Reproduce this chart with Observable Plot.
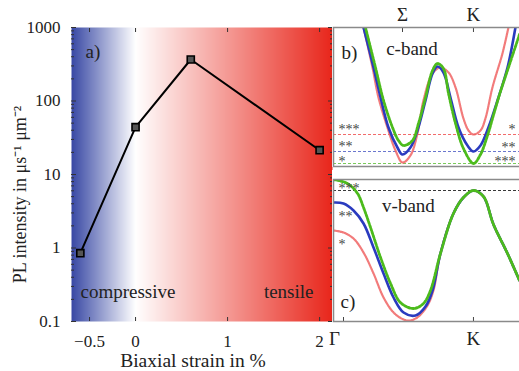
<!DOCTYPE html>
<html><head><meta charset="utf-8">
<script src="https://cdn.jsdelivr.net/npm/d3@7"></script>
<script src="https://cdn.jsdelivr.net/npm/@observablehq/plot@0.6"></script>
<style>
html,body{margin:0;padding:0;background:#fff;overflow:hidden;}
#wrap{position:relative;width:519px;height:371px;overflow:hidden;}
#wrap svg{position:absolute;display:block;max-width:none;}
</style></head><body><div id="wrap"></div>
<script>
// ---------- panel a data ----------
const strain = [-0.6, 0, 0.6, 2];
const plIntensity = [0.85, 44, 367, 21.4];
const strainTicks = [-0.5, 0, 1, 2];
const strainTickLabels = ["−0.5", "0", "1", "2"];
const intensityTicks = [0.1, 1, 10, 100, 1000];
const intensityTickLabels = ["0.1", "1", "10", "100", "1000"];
const yLabelA = "PL intensity in μs⁻¹ μm⁻²";
const xLabelA = "Biaxial strain in %";

// ---------- panel b (conduction band) data: [k, E] ----------
const cBandRed = [[0.154,1.39],[0.223,0.99],[0.269,0.69],[0.338,0.39],[0.400,0.16],[0.454,0.04],[0.515,0.11],[0.569,0.33],[0.615,0.66],[0.685,0.93],[0.746,0.99],[0.808,0.94],[0.862,0.79],[0.923,0.48],[0.962,0.36],[1.000,0.32],[1.054,0.36],[1.092,0.48],[1.146,0.79],[1.223,1.13],[1.269,1.39]];
const cBandBlue = [[0.154,1.39],[0.231,0.99],[0.285,0.69],[0.346,0.39],[0.415,0.19],[0.454,0.12],[0.515,0.19],[0.569,0.36],[0.631,0.66],[0.685,0.93],[0.723,1.00],[0.769,0.94],[0.823,0.69],[0.885,0.39],[0.954,0.21],[1.000,0.15],[1.054,0.21],[1.115,0.39],[1.185,0.66],[1.262,0.99],[1.323,1.39]];
const cBandGreen = [[0.169,1.39],[0.246,0.99],[0.308,0.66],[0.377,0.39],[0.423,0.26],[0.462,0.21],[0.531,0.26],[0.577,0.43],[0.631,0.69],[0.685,0.96],[0.723,1.03],[0.769,0.98],[0.808,0.73],[0.862,0.43],[0.923,0.18],[1.000,0.03],[1.054,0.12],[1.108,0.31],[1.162,0.55],[1.208,0.75],[1.277,1.02],[1.354,1.32]];
const cBandLevels = [0.32, 0.15, 0.03];
const cBandLevelColors = ["#f05a5a", "#5a68c8", "#6cc44a"];
const cStarsLeft = ["***", "**", "*"];
const cStarsLeftE = [0.39, 0.22, 0.07];
const cStarsRight = ["*", "**", "***"];
const cStarsRightE = [0.39, 0.21, 0.07];

// ---------- panel c (valence band) data: [k, E] ----------
const vBandRed = [[-0.077,0.91],[0,0.89],[0.077,0.83],[0.154,0.69],[0.231,0.48],[0.308,0.24],[0.385,0.09],[0.462,0.02],[0.515,0.01],[0.577,0.05],[0.646,0.16],[0.692,0.31]];
const vBandBlue = [[-0.077,1.19],[0,1.18],[0.077,1.11],[0.154,0.98],[0.231,0.74],[0.308,0.48],[0.385,0.24],[0.462,0.09],[0.554,0.06],[0.631,0.15],[0.685,0.31]];
const vBandGreen = [[-0.077,1.42],[0.031,1.38],[0.108,1.28],[0.154,1.14],[0.208,0.94],[0.285,0.64],[0.362,0.38],[0.438,0.19],[0.538,0.13],[0.615,0.18],[0.669,0.31]];
const vBandShared = [[0.746,0.68],[0.846,1.08],[0.923,1.24],[1.0,1.31],[1.077,1.25],[1.154,0.97],[1.262,0.68],[1.354,0.41]];
const vBandLevel = [1.31];
const vStars = ["***", "**", "*"];
const vStarsE = [1.35, 1.07, 0.79];

// k-path tick labels
const topTicks = [0.454, 1];
const topTickLabels = ["Σ", "K"];
const bottomTicks = [0, 1];
const bottomTickLabels = ["Γ", "K"];

const serif = "'Liberation Serif', 'Times New Roman', serif";
const wrap = document.getElementById("wrap");

// ================= panel a =================
const xDomA = [-0.696, 2.14];
const yDomA = [0.1, 1000];
const minorY = d3.scaleLog().domain(yDomA).ticks().filter(v => !intensityTicks.some(t => Math.abs(t - v) < 1e-9));
const ptsA = strain.map((s, i) => ({s, v: plIntensity[i]}));

let bg;
if (Plot.raster) {
  bg = Plot.raster({x1: xDomA[0], x2: xDomA[1], y1: yDomA[0], y2: yDomA[1], fill: (x, y) => x, pixelSize: 1});
} else {
  const st = d3.range(xDomA[0], xDomA[1], 0.01);
  bg = Plot.rectY(st, {x1: d => d, x2: d => d + 0.012, y1: yDomA[0], y2: yDomA[1], fill: d => d});
}

const plotA = Plot.plot({
  width: 333, height: 371,
  marginLeft: 71, marginRight: 1, marginTop: 27, marginBottom: 50,
  style: {fontFamily: serif, background: "transparent", color: "#222", overflow: "visible"},
  x: {domain: xDomA},
  y: {type: "log", domain: yDomA},
  color: {type: "linear", domain: [xDomA[0], 0, xDomA[1]], range: ["#3848a4", "#ffffff", "#e8261b"], interpolate: "rgb"},
  marks: [
    bg,
    Plot.axisY(intensityTicks, {anchor: "left", tickSize: 5, dx: 5, tickPadding: 11, fontSize: 17, label: null, fill: "#222", stroke: "#333",
      tickFormat: d => intensityTickLabels[intensityTicks.indexOf(d)]}),
    Plot.axisY(minorY, {anchor: "left", tickSize: 3, dx: 3, fill: "none", label: null, stroke: "#333"}),
    Plot.axisY(intensityTicks, {anchor: "right", tickSize: 5, dx: -5, fill: "none", label: null, stroke: "#333"}),
    Plot.axisY(minorY, {anchor: "right", tickSize: 3, dx: -3, fill: "none", label: null, stroke: "#333"}),
    Plot.axisX(strainTicks, {anchor: "bottom", tickSize: 4, dy: -4, tickPadding: 13, fontSize: 17, label: null, fill: "#222", stroke: "#333",
      tickFormat: d => strainTickLabels[strainTicks.indexOf(d)]}),
    Plot.axisX(strainTicks, {anchor: "top", tickSize: 4, dy: 4, fill: "none", label: null, stroke: "#333"}),
    Plot.line(ptsA, {x: "s", y: "v", stroke: "#000", strokeWidth: 2}),
    Plot.dot(ptsA, {x: "s", y: "v", symbol: "square", r: 4, fill: "#555", stroke: "#000", strokeWidth: 1.6}),
    Plot.text([yLabelA], {text: d => d, frameAnchor: "left", textAnchor: "middle", lineAnchor: "middle", rotate: -90, dx: -51, dy: 20, fontSize: 18, fill: "#222"}),
    Plot.text([xLabelA], {text: d => d, frameAnchor: "bottom", textAnchor: "middle", lineAnchor: "middle", dx: -9, dy: 39, fontSize: 19.5, fill: "#222"}),
    Plot.text(["a)"], {text: d => d, frameAnchor: "top-left", dx: 14, dy: 24, textAnchor: "start", lineAnchor: "middle", fontSize: 19, fill: "#222"}),
    Plot.text(["compressive"], {text: d => d, frameAnchor: "bottom-left", dx: 9, dy: -30, textAnchor: "start", lineAnchor: "middle", fontSize: 19, fill: "#222"}),
    Plot.text(["tensile"], {text: d => d, frameAnchor: "bottom-right", dx: -19, dy: -30, textAnchor: "end", lineAnchor: "middle", fontSize: 19, fill: "#222"})
  ]
});
plotA.style.left = "0px"; plotA.style.top = "0px";
wrap.appendChild(plotA);

// ================= shared styles for b/c =================
const kDom = [-0.077, 1.385];
const lineOpts = (color, w, dash, op = 1) => ({x: d => d[0], y: d => d[1], curve: "catmull-rom", stroke: color, strokeWidth: w, strokeDasharray: dash, strokeOpacity: op, clip: true});
const redStyle = ["#f06464", 2.2, "1.3,0.9", 0.85];
const blueStyle = ["#2a3bbf", 2.6, null, 1];
const greenStyle = ["#4cbb1c", 2.8, "2.2,1.5", 1];

// ================= panel b =================
const plotB = Plot.plot({
  width: 192, height: 167,
  marginLeft: 1, marginRight: 1, marginTop: 27, marginBottom: 1,
  style: {fontFamily: serif, background: "white", color: "#222", overflow: "visible"},
  x: {domain: kDom, axis: null},
  y: {domain: [0, 1.39], axis: null},
  marks: [
    ...cBandLevels.map((e, i) => Plot.ruleY([e], {stroke: cBandLevelColors[i], strokeWidth: 0.9, strokeDasharray: "3,2"})),
    Plot.line(cBandRed, lineOpts(...redStyle)),
    Plot.line(cBandBlue, lineOpts(...blueStyle)),
    Plot.line(cBandGreen, lineOpts(...greenStyle)),
    Plot.text(cStarsLeft, {text: d => d, x: kDom[0], y: (d, i) => cStarsLeftE[i], dx: 5, dy: 2.5, textAnchor: "start", fontSize: 14, fill: "#444"}),
    Plot.text(cStarsRight, {text: d => d, x: kDom[1], y: (d, i) => cStarsRightE[i], dx: -8, dy: 2.5, textAnchor: "end", fontSize: 14, fill: "#444"}),
    Plot.text(["b)"], {text: d => d, x: kDom[0], y: 1.14, dx: 8, textAnchor: "start", fontSize: 19, fill: "#222"}),
    Plot.text(["c-band"], {text: d => d, x: 0.527, y: 1.18, fontSize: 19, fill: "#222"}),
    Plot.axisX(topTicks, {anchor: "top", tickSize: 4, dy: 4, tickPadding: 7, fontSize: 19, label: null, fill: "#222", stroke: "#444",
      tickFormat: d => topTickLabels[topTicks.indexOf(d)]}),
    Plot.frame({stroke: "#8a8a8a", strokeWidth: 1.5})
  ]
});
plotB.style.left = "332px"; plotB.style.top = "0px";
wrap.appendChild(plotB);

// ================= panel c =================
const plotC = Plot.plot({
  width: 192, height: 201,
  marginLeft: 1, marginRight: 1, marginTop: 9, marginBottom: 50,
  style: {fontFamily: serif, background: "white", color: "#222", overflow: "visible"},
  x: {domain: kDom, axis: null},
  y: {domain: [0, 1.42], axis: null},
  marks: [
    Plot.ruleY(vBandLevel, {stroke: "#222", strokeWidth: 0.9, strokeDasharray: "3,2"}),
    Plot.line(vBandRed.concat(vBandShared), lineOpts(...redStyle)),
    Plot.line(vBandBlue.concat(vBandShared), lineOpts(...blueStyle)),
    Plot.line(vBandGreen.concat(vBandShared), lineOpts(...greenStyle)),
    Plot.text(vStars, {text: d => d, x: kDom[0], y: (d, i) => vStarsE[i], dx: 5, dy: 2.5, textAnchor: "start", fontSize: 14, fill: "#444"}),
    Plot.text(["v-band"], {text: d => d, x: 0.5, y: 1.16, fontSize: 19, fill: "#222"}),
    Plot.text(["c)"], {text: d => d, x: kDom[0], y: 0.20, dx: 7, textAnchor: "start", fontSize: 19, fill: "#222"}),
    Plot.axisX([bottomTicks[0]], {anchor: "bottom", tickSize: 0, tickPadding: 10, dx: -9, fontSize: 19, label: null, fill: "#222", tickFormat: () => bottomTickLabels[0]}),
    Plot.axisX([bottomTicks[1]], {anchor: "bottom", tickSize: 0, tickPadding: 10, fontSize: 19, label: null, fill: "#222", tickFormat: () => bottomTickLabels[1]}),
    Plot.axisX(bottomTicks, {anchor: "bottom", tickSize: 4, dy: -4, fill: "none", label: null, stroke: "#444"}),
    Plot.frame({stroke: "#8a8a8a", strokeWidth: 1.5})
  ]
});
plotC.style.left = "332px"; plotC.style.top = "170px";
wrap.appendChild(plotC);
</script>
</body></html>
